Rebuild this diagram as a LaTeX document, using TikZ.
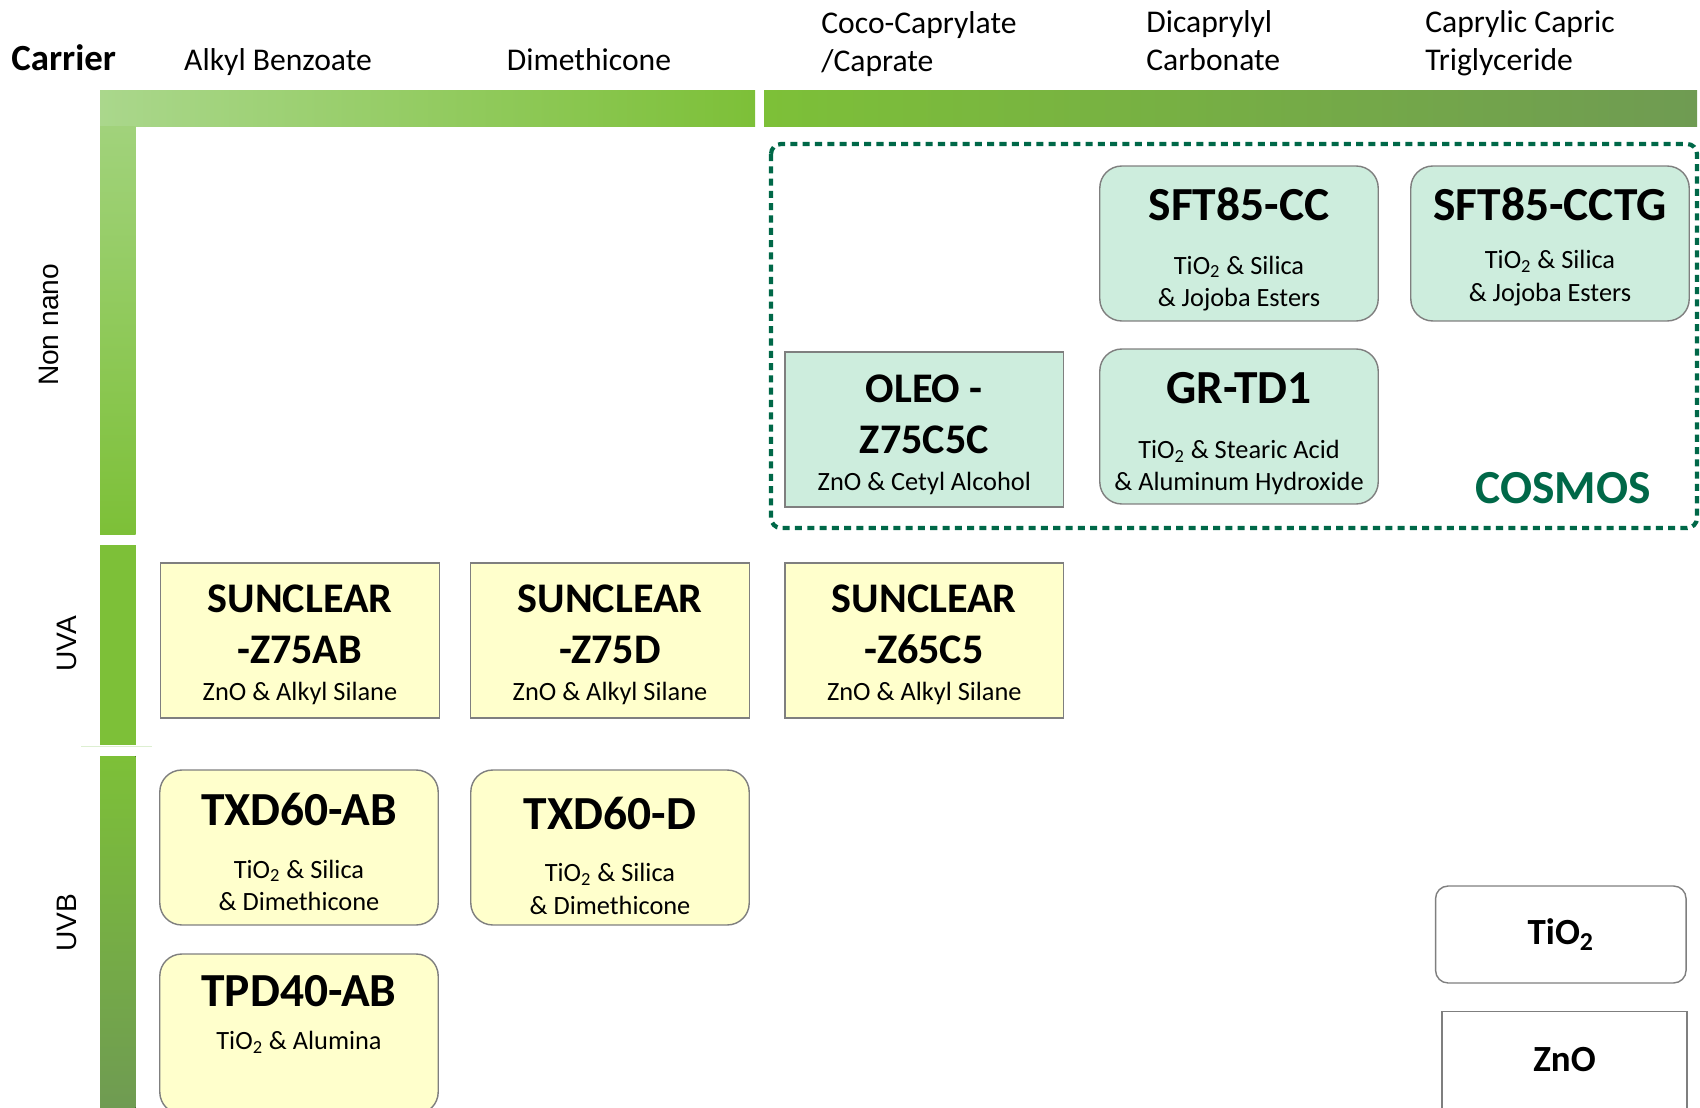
\documentclass[tikz,border=0pt]{standalone}
\usepackage{fontspec}
\setmainfont{Carlito}
\newfontfamily\sidefont{Liberation Sans}
\definecolor{leafpale}{RGB}{170,215,140}
\definecolor{leaf}{RGB}{125,192,56}
\definecolor{sage}{RGB}{142,181,113}
\definecolor{moss}{RGB}{111,155,82}
\definecolor{cream}{RGB}{255,255,204}
\definecolor{mint}{RGB}{205,237,221}
\definecolor{edgegray}{RGB}{127,127,127}
\definecolor{cosmosgreen}{RGB}{0,104,72}
\newcommand{\namefont}{\fontsize{24}{29}\selectfont\bfseries}
\newcommand{\bignamefont}{\fontsize{27}{32}\selectfont\bfseries}
\newcommand{\subfont}{\fontsize{15}{18.5}\selectfont\mdseries}

\begin{document}
\begin{tikzpicture}[
  x=0.02cm, y=-0.02cm,
  header/.style={font=\fontsize{18}{21.6}\selectfont, inner sep=0pt, align=left},
  sidelabel/.style={font=\sidefont\fontsize{16}{18}\selectfont, rotate=90, inner sep=0pt},
  product/.style={draw=edgegray, line width=0.8pt, minimum width=5.57cm,
    minimum height=3.1cm, inner sep=0pt},
  prodtext/.style={inner sep=0pt, align=center, font=\subfont},
  uvabox/.style={product, fill=cream},
  uvbbox/.style={product, fill=cream, rounded corners=0.44cm},
  nanobox/.style={product, fill=mint, rounded corners=0.44cm},
  legendbox/.style={draw=edgegray, line width=0.8pt, fill=white,
    minimum width=5.01cm, minimum height=1.94cm, inner sep=0pt,
    font=\fontsize{21}{25}\selectfont\bfseries},
  cosmosframe/.style={draw=cosmosgreen, line width=2.4pt,
    dash pattern=on 4pt off 3pt, rounded corners=0.2cm}
]
\path[use as bounding box, clip] (0,0) rectangle (1700,1108);

% Carrier headings
\node[header, font=\fontsize{21}{25}\selectfont\bfseries, anchor=base west] (carrier) at (11,70.5) {Carrier};
\node[header, anchor=base] (benzoate) at (278,71) {Alkyl Benzoate};
\node[header, anchor=base] (dimethicone) at (589,71) {Dimethicone};
\node[header, anchor=west] (coco) at (821,44) {Coco-Caprylate\\/Caprate};
\node[header, anchor=west] (dicaprylyl) at (1146,41) {Dicaprylyl\\Carbonate};
\node[header, anchor=west] (triglyceride) at (1425,43) {Caprylic Capric\\Triglyceride};

% Green axis bars
\fill[left color=leafpale, right color=leaf] (100,91) rectangle (755,127);
\fill[left color=leaf, middle color=sage, right color=moss] (764,91) rectangle (1697,127);
\fill[top color=leafpale!80!leaf, bottom color=leaf] (100,127) rectangle (135.5,534);
\fill[leaf] (100,545) rectangle (135.5,745);
\fill[top color=leaf, middle color=sage, bottom color=moss] (100,756) rectangle (135.5,1108);
\draw[leafpale!40, line width=0.5pt] (81,746.5) -- (152,746.5);

\node[sidelabel] (nonnano) at (49,325) {Non nano};
\node[sidelabel] (uva) at (67,644) {UVA};
\node[sidelabel] (uvb) at (67,923) {UVB};

% COSMOS group
\draw[cosmosframe] (771,144) rectangle (1697,528);
\node[nanobox, label={[prodtext, yshift=-3.4pt]center:{\bignamefont SFT85-CC\\[12pt]TiO\textsubscript{2} \& Silica\\\& Jojoba Esters}}] (sftcc) at (1239,243.5) {};
\node[nanobox, label={[prodtext, yshift=-1.9pt]center:{\bignamefont SFT85-CCTG\\[9pt]TiO\textsubscript{2} \& Silica\\\& Jojoba Esters}}] (sftcctg) at (1550,243.5) {};
\node[product, fill=mint, label={[prodtext, yshift=-3pt]center:{\namefont OLEO -\\[10.5pt]\namefont Z75C5C\\[2.7pt]ZnO \& Cetyl Alcohol}}] (oleo) at (924.3,429.5) {};
\node[nanobox, label={[prodtext, yshift=-4pt]center:{\bignamefont GR-TD1\\[12.8pt]TiO\textsubscript{2} \& Stearic Acid\\\& Aluminum Hydroxide}}] (grtd) at (1239,426.5) {};
\node[font=\fontsize{27}{32}\selectfont\bfseries, text=cosmosgreen, inner sep=0pt] (cosmos) at (1563,488) {COSMOS};

% UVA row
\node[uvabox, label={[prodtext, yshift=-2.5pt]center:{\namefont SUNCLEAR\\[10.5pt]\namefont -Z75AB\\[2.7pt]ZnO \& Alkyl Silane}}] (z75ab) at (300,640.5) {};
\node[uvabox, label={[prodtext, yshift=-2.5pt]center:{\namefont SUNCLEAR\\[10.5pt]\namefont -Z75D\\[2.7pt]ZnO \& Alkyl Silane}}] (z75d) at (610,640.5) {};
\node[uvabox, label={[prodtext, yshift=-2.5pt]center:{\namefont SUNCLEAR\\[10.5pt]\namefont -Z65C5\\[2.7pt]ZnO \& Alkyl Silane}}] (z65c5) at (924.3,640.5) {};

% UVB rows
\node[uvbbox, label={[prodtext, yshift=-2.5pt]center:{\bignamefont TXD60-AB\\[11.5pt]TiO\textsubscript{2} \& Silica\\\& Dimethicone}}] (txdab) at (299,847.5) {};
\node[uvbbox, label={[prodtext, yshift=-4.6pt]center:{\bignamefont TXD60-D\\[11.5pt]TiO\textsubscript{2} \& Silica\\\& Dimethicone}}] (txdd) at (610,847.5) {};
\node[uvbbox, minimum height=3.2cm] (tpdab) at (299,1034) {};
\node[prodtext, anchor=north] (tpdtext) at ([yshift=-0.43cm]tpdab.north) {\bignamefont TPD40-AB\\[6pt]TiO\textsubscript{2} \& Alumina};

% Legend
\node[legendbox, rounded corners=0.25cm] (tio2) at (1560.8,934.5) {TiO\textsubscript{2}};
\node[legendbox, minimum width=4.9cm] (zno) at (1564.5,1060) {ZnO};

\end{tikzpicture}
\end{document}
